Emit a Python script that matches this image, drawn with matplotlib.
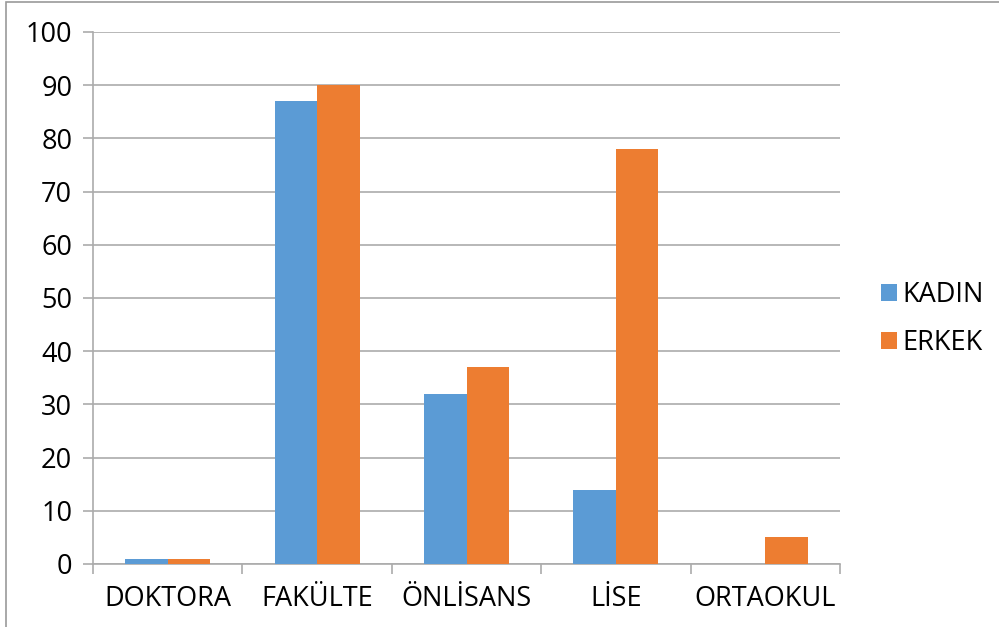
#!/usr/bin/env python3
import numpy as np
import matplotlib
matplotlib.use('Agg')
import matplotlib.pyplot as plt
from matplotlib.patches import Rectangle

CATEGORIES = ['DOKTORA', 'FAKÜLTE', 'ÖNLİSANS', 'LİSE', 'ORTAOKUL']
KADIN = [1, 87, 32, 14, 0]
ERKEK = [1, 90, 37, 78, 5]
SERIES = ['KADIN', 'ERKEK']
COLORS = ['#5B9BD5', '#ED7D31']
GRID_COLOR = '#ABABAB'
FONT_SIZE = 19.5


def main():
    plt.rcParams['font.family'] = ['Open Sans', 'DejaVu Sans']

    fig = plt.figure(figsize=(9.99, 6.27), dpi=100)
    ax = fig.add_axes([93 / 999, 1 - 564 / 627, (840 - 93) / 999, (564 - 32) / 627])

    x = np.arange(len(CATEGORIES))
    width = 0.285
    ax.bar(x - width / 2, KADIN, width, color=COLORS[0], label=SERIES[0], zorder=3)
    ax.bar(x + width / 2, ERKEK, width, color=COLORS[1], label=SERIES[1], zorder=3)

    ax.set_xlim(-0.5, len(CATEGORIES) - 0.5)
    ax.set_ylim(0, 100)
    ax.set_yticks(np.arange(0, 101, 10))
    ax.yaxis.grid(True, color=GRID_COLOR, linewidth=1.2, zorder=0)

    # category labels centred, tick marks on the category boundaries
    ax.set_xticks(x)
    ax.set_xticklabels(CATEGORIES, fontsize=FONT_SIZE)
    ax.set_xticks(np.arange(-0.5, len(CATEGORIES)), minor=True)
    ax.tick_params(axis='x', which='major', length=0, pad=15)
    ax.tick_params(axis='x', which='minor', length=7, color=GRID_COLOR, width=1.2)
    ax.tick_params(axis='y', length=7, color=GRID_COLOR, width=1.2,
                   labelsize=FONT_SIZE, pad=8)

    for side in ['top', 'right']:
        ax.spines[side].set_visible(False)
    for side in ['left', 'bottom']:
        ax.spines[side].set_color(GRID_COLOR)
        ax.spines[side].set_linewidth(1.2)

    ax.legend(loc='center left', bbox_to_anchor=(1.022, 0.46), frameon=False,
              fontsize=FONT_SIZE, handlelength=0.6, handleheight=0.6,
              handletextpad=0.2, labelspacing=0.75)

    # thin frame around the chart
    fig.patches.append(Rectangle((6 / 999, -0.01), 1.2, 1 - 2 / 627 + 0.01,
                                 transform=fig.transFigure, fill=False,
                                 edgecolor='#9A9A9A', linewidth=1.2))

    fig.savefig('out.png', dpi=100)


if __name__ == '__main__':
    main()
